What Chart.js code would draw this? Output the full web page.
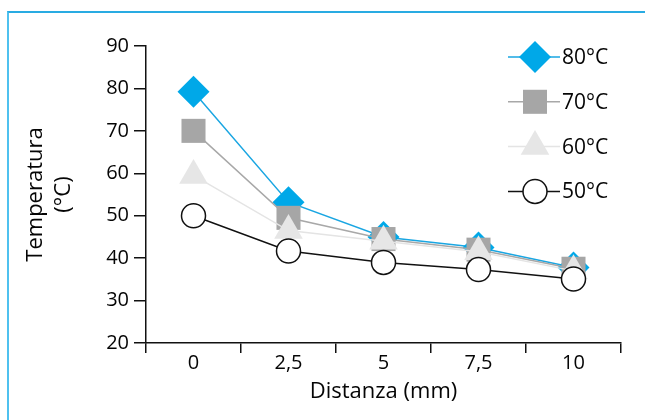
<!DOCTYPE html>
<html>
<head>
<meta charset="utf-8">
<script src="https://cdn.jsdelivr.net/npm/chart.js@4"></script>
<style>
	body { margin: 0; background: #ffffff; }
	#wrap { position: relative; width: 645px; height: 420px; overflow: hidden; }
	#frame
	{
		position: absolute; left: 7px; top: 11px; width: 660px; height: 430px;
		border-left: 2px solid #4fc1ef; border-top: 2px solid #29abe2;
	}
	#chart { position: absolute; left: 0; top: 0; }
</style>
</head>
<body>
<div id="wrap">
	<div id="frame"></div>
	<canvas id="chart" width="645" height="420"></canvas>
</div>
<script>
// distanza (mm) sull'asse x
const distances = ['0', '2,5', '5', '7,5', '10'];
const seriesNames = ['80°C', '70°C', '60°C', '50°C'];
const temp80 = [79.2, 53.2, 45, 42.5, 37.8];
const temp70 = [70, 49.5, 44.5, 42, 37.5];
const temp60 = [59.5, 46.5, 44, 41.5, 37];
const temp50 = [50, 41.7, 39, 37.3, 35.1];
const yMin = 20, yMax = 90, yStep = 10;

const FONT = "'Open Sans', 'Noto Sans', sans-serif";
const TEXT = '#050505';

// legenda disegnata a mano: linea + marker + testo
const sideLegend =
{
	id: 'sideLegend',
	afterDraw(chart)
	{
		const ctx = chart.ctx;
		const sets = chart.data.datasets;
		ctx.save();
		for(let i = 0; i < sets.length; i++)
		{
			const ds = sets[i];
			const y = 57 + i * 44.8;
			ctx.strokeStyle = ds.borderColor;
			ctx.lineWidth = ds.borderWidth;
			ctx.beginPath();
			ctx.moveTo(508, y);
			ctx.lineTo(560, y);
			ctx.stroke();
			ctx.fillStyle = ds.pointBackgroundColor;
			ctx.strokeStyle = ds.pointBorderColor;
			ctx.lineWidth = ds.pointBorderWidth;
			Chart.helpers.drawPoint(ctx,
			{
				pointStyle: ds.pointStyle,
				radius: ds.pointRadius,
				borderWidth: ds.pointBorderWidth,
				rotation: 0
			}, 535, y);
			ctx.fillStyle = TEXT;
			ctx.font = "21px " + FONT;
			ctx.textAlign = 'left';
			ctx.textBaseline = 'middle';
			ctx.fillText(ds.label, 562, y + 1);
		}
		ctx.restore();
	}
};

new Chart(document.getElementById('chart').getContext('2d'),
{
	type: 'line',
	plugins: [sideLegend],
	data:
	{
		labels: distances,
		datasets:
		[
			{
				label: seriesNames[0], data: temp80, order: 4,
				borderColor: '#1aa6e2', borderWidth: 1.5,
				pointStyle: 'rectRot', pointRadius: 16,
				pointBackgroundColor: '#00a8e8', pointBorderColor: '#00a8e8', pointBorderWidth: 0
			},
			{
				label: seriesNames[1], data: temp70, order: 3,
				borderColor: '#a8a8a8', borderWidth: 1.5,
				pointStyle: 'rect', pointRadius: 17,
				pointBackgroundColor: '#a6a6a6', pointBorderColor: '#a6a6a6', pointBorderWidth: 0
			},
			{
				label: seriesNames[2], data: temp60, order: 2,
				borderColor: '#e4e4e4', borderWidth: 1.5,
				pointStyle: 'triangle', pointRadius: 16.5,
				pointBackgroundColor: '#e6e6e6', pointBorderColor: '#e6e6e6', pointBorderWidth: 0
			},
			{
				label: seriesNames[3], data: temp50, order: 1,
				borderColor: '#111111', borderWidth: 1.5,
				pointStyle: 'circle', pointRadius: 12,
				pointBackgroundColor: '#ffffff', pointBorderColor: '#111111', pointBorderWidth: 1.5
			}
		]
	},
	options:
	{
		responsive: false,
		animation: false,
		devicePixelRatio: 1,
		layout: { padding: { left: 0, top: 46, right: 24, bottom: 0 } },
		plugins: { legend: { display: false }, tooltip: { enabled: false } },
		elements: { line: { tension: 0 } },
		scales:
		{
			x:
			{
				offset: true,
				afterFit: (scale) => { scale.height = 77; },
				border: { display: true, color: '#111', width: 1.5 },
				grid: { offset: true, drawOnChartArea: false, drawTicks: true, tickLength: 10, color: '#111', lineWidth: 1.5 },
				ticks: { color: TEXT, padding: 0, font: { family: FONT, size: 20, lineHeight: 1 } },
				title:
				{
					display: true, text: 'Distanza (mm)', color: TEXT,
					font: { family: FONT, size: 22, lineHeight: 1.2 },
					padding: { top: 0, bottom: 15 }
				}
			},
			y:
			{
				min: yMin, max: yMax,
				afterFit: (scale) => { scale.width = 146; },
				border: { display: true, color: '#111', width: 1.5 },
				grid: { drawOnChartArea: false, drawTicks: true, tickLength: 12, color: '#111', lineWidth: 1.5 },
				ticks: { stepSize: yStep, color: TEXT, padding: 5, font: { family: FONT, size: 20 } },
				title:
				{
					display: true, text: ['Temperatura', '(°C)'], color: TEXT,
					font: { family: FONT, size: 22, lineHeight: 1.3 },
					padding: { top: 21, bottom: 0 }
				}
			}
		}
	}
});
</script>
</body>
</html>
